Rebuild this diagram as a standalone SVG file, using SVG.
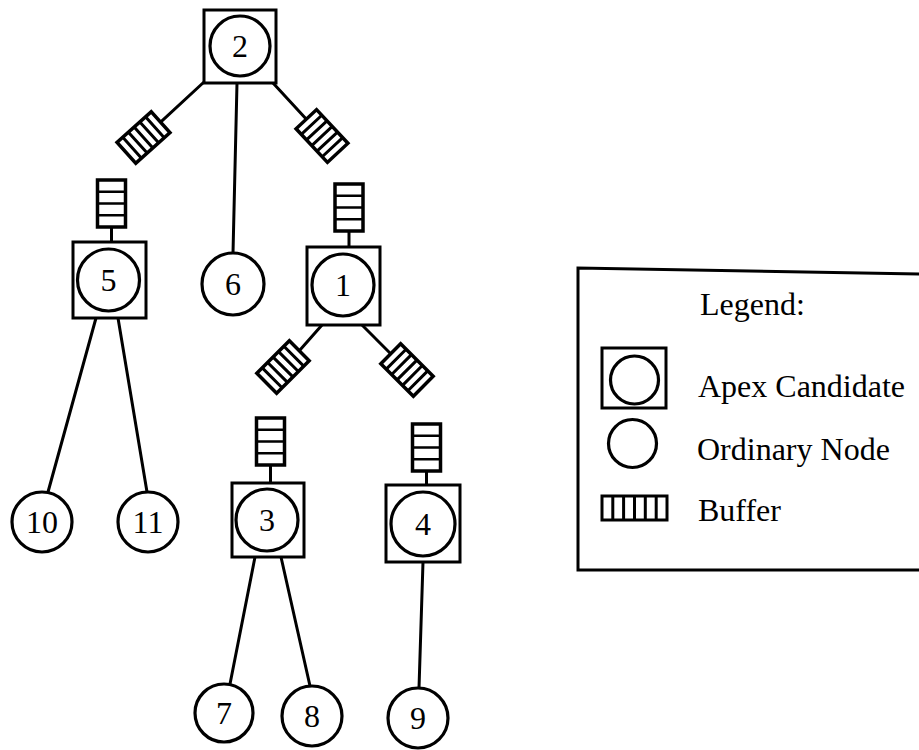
<svg xmlns="http://www.w3.org/2000/svg" width="919" height="750" viewBox="0 0 919 750">
  <style>
    .ln { stroke: #000; stroke-width: 3; fill: none; stroke-linecap: round; }
    .box { stroke: #000; stroke-width: 3; fill: #fff; }
    .ring { stroke: #000; stroke-width: 3.2; fill: #fff; }
    .lbl { font-family: "Liberation Serif", "Times New Roman", serif; font-size: 32px; fill: #000; text-anchor: middle; }
    .leg { font-family: "Liberation Serif", "Times New Roman", serif; font-size: 32px; fill: #000; }
  </style>
  <defs>
    <!-- upright buffer: four cells -->
    <g id="bufUp">
      <rect x="-14" y="-23.5" width="28" height="47" fill="#fff" stroke="#000" stroke-width="3.5"/>
      <path d="M-14,-11.75H14M-14,0H14M-14,11.75H14" stroke="#000" stroke-width="2.5"/>
    </g>
    <!-- link buffer: six cells, long axis along local y -->
    <g id="bufLink">
      <rect x="-14" y="-23" width="28" height="46" fill="#fff" stroke="#000" stroke-width="3.5"/>
      <path d="M-14,-15.3H14M-14,-7.7H14M-14,0H14M-14,7.7H14M-14,15.3H14" stroke="#000" stroke-width="3"/>
    </g>
  </defs>

  <g id="connectors">
    <line class="ln" x1="204" y1="82" x2="160.6" y2="122.1"/>
    <line class="ln" x1="237" y1="83" x2="233" y2="253"/>
    <line class="ln" x1="273" y1="83" x2="306.4" y2="119.2"/>
    <line class="ln" x1="111.5" y1="227" x2="111.5" y2="242"/>
    <line class="ln" x1="349" y1="231" x2="349" y2="247"/>
    <line class="ln" x1="96" y1="318" x2="48" y2="492"/>
    <line class="ln" x1="118" y1="318" x2="147" y2="492"/>
    <line class="ln" x1="322" y1="325" x2="299.3" y2="350.7"/>
    <line class="ln" x1="362" y1="325" x2="390.7" y2="353.7"/>
    <line class="ln" x1="270.5" y1="465" x2="270.5" y2="483"/>
    <line class="ln" x1="426.5" y1="471" x2="426.5" y2="485"/>
    <line class="ln" x1="255" y1="557" x2="230" y2="684"/>
    <line class="ln" x1="281" y1="557" x2="310" y2="686"/>
    <line class="ln" x1="423" y1="562" x2="419" y2="688"/>
  </g>

  <g id="buffers">
    <use href="#bufLink" transform="translate(143.5,137.5) rotate(48)"/>
    <use href="#bufLink" transform="translate(322,136) rotate(-43)"/>
    <use href="#bufLink" transform="translate(283,367) rotate(45)"/>
    <use href="#bufLink" transform="translate(407,370) rotate(-45)"/>
    <use href="#bufUp" transform="translate(111.5,203.5)"/>
    <use href="#bufUp" transform="translate(349,207.5)"/>
    <use href="#bufUp" transform="translate(270.5,441.5)"/>
    <use href="#bufUp" transform="translate(426.5,447.5)"/>
  </g>

  <g id="node2">
    <rect class="box" x="204" y="10" width="72" height="73"/>
    <circle class="ring" cx="240" cy="46" r="30"/>
    <text class="lbl" x="240" y="57">2</text>
  </g>
  <g id="node5">
    <rect class="box" x="73" y="242" width="73" height="76"/>
    <circle class="ring" cx="108.5" cy="280" r="31"/>
    <text class="lbl" x="108.5" y="291">5</text>
  </g>
  <g id="node6">
    <circle class="ring" cx="233" cy="284" r="31"/>
    <text class="lbl" x="233" y="295">6</text>
  </g>
  <g id="node1">
    <rect class="box" x="307" y="247" width="73" height="78"/>
    <circle class="ring" cx="343" cy="285" r="31"/>
    <text class="lbl" x="343" y="296">1</text>
  </g>
  <g id="node3">
    <rect class="box" x="232" y="483" width="72" height="74"/>
    <circle class="ring" cx="267" cy="520" r="31"/>
    <text class="lbl" x="267" y="531">3</text>
  </g>
  <g id="node4">
    <rect class="box" x="386" y="485" width="74" height="77"/>
    <circle class="ring" cx="423" cy="524" r="32"/>
    <text class="lbl" x="423" y="535">4</text>
  </g>
  <g id="node10">
    <circle class="ring" cx="42" cy="522" r="30"/>
    <text class="lbl" x="42" y="533">10</text>
  </g>
  <g id="node11">
    <circle class="ring" cx="148" cy="522" r="30"/>
    <text class="lbl" x="148" y="533">11</text>
  </g>
  <g id="node7">
    <circle class="ring" cx="224" cy="713" r="29"/>
    <text class="lbl" x="224" y="724">7</text>
  </g>
  <g id="node8">
    <circle class="ring" cx="312" cy="716" r="30"/>
    <text class="lbl" x="312" y="727">8</text>
  </g>
  <g id="node9">
    <circle class="ring" cx="418" cy="718" r="30"/>
    <text class="lbl" x="418" y="729">9</text>
  </g>

  <g id="legend">
    <path class="ln" d="M925,274 L578,268 L578,570 L925,570"/>
    <text class="leg" x="700" y="315">Legend:</text>
    <rect class="box" x="602" y="348" width="64" height="60"/>
    <circle class="ring" cx="634.5" cy="380" r="24"/>
    <text class="leg" x="698" y="397">Apex Candidate</text>
    <circle class="ring" cx="632.5" cy="443.5" r="24"/>
    <text class="leg" x="697" y="460">Ordinary Node</text>
    <rect class="box" x="602" y="496" width="65" height="24"/>
    <path d="M612.8,496V520M623.6,496V520M634.5,496V520M645.3,496V520M656.2,496V520" stroke="#000" stroke-width="3"/>
    <text class="leg" x="698" y="521">Buffer</text>
  </g>
</svg>
